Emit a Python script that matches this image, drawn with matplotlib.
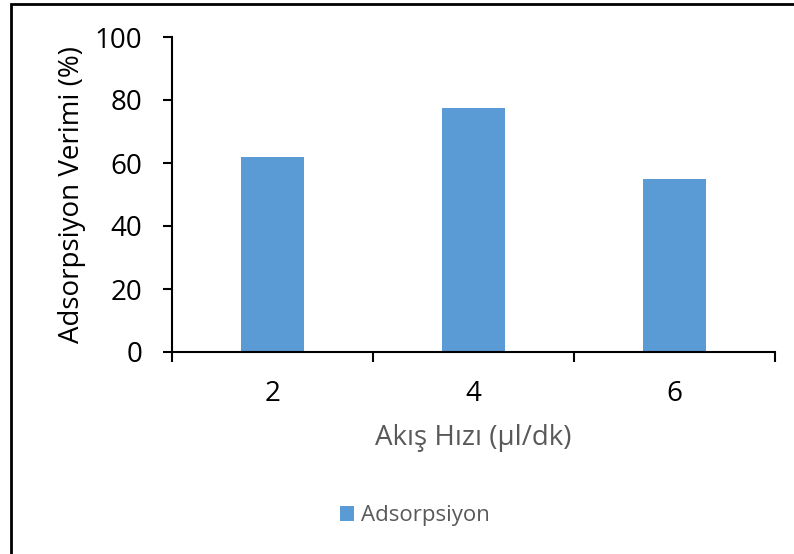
import matplotlib
matplotlib.use("Agg")
import matplotlib.pyplot as plt
from matplotlib.patches import Rectangle

categories = ["2", "4", "6"]
values = [62, 77.5, 55]
y_ticks = [0, 20, 40, 60, 80, 100]
series_name = "Adsorpsiyon"

plt.rcParams['font.family'] = ['Open Sans', 'DejaVu Sans']

W, H = 794, 554
fig = plt.figure(figsize=(W/100, H/100), dpi=100)
ax = fig.add_axes([172/W, 1-352/H, (775-172)/W, (352-37)/H])

x = list(range(len(categories)))
bars = ax.bar(x, values, width=0.313, color="#5B9BD5", label=series_name, zorder=2)
ax.set_xlim(-0.5, len(categories)-0.5)
ax.set_ylim(0, 100)
ax.set_yticks(y_ticks)
ax.set_yticklabels([str(t) for t in y_ticks], fontsize=20, color="black")
ax.set_xticks(x)
ax.set_xticklabels(categories, fontsize=20, color="black")
ax.tick_params(axis='x', length=0, pad=20)
ax.tick_params(axis='y', length=6.5, width=1.5, direction='out', pad=15)
# category boundary ticks
ax.set_xticks([-0.5, 0.5, 1.5, 2.5], minor=True)
ax.tick_params(axis='x', which='minor', length=7, width=1.5, direction='out')
for s in ['top', 'right']:
    ax.spines[s].set_visible(False)
for s in ['left', 'bottom']:
    ax.spines[s].set_linewidth(1.5)

ax.set_ylabel("Adsorpsiyon Verimi (%)", fontsize=20, color="black", labelpad=6)
ax.set_xlabel("Akış Hızı (µl/dk)", fontsize=20, color="#595959", labelpad=12)

leg = fig.legend(handles=[bars], labels=[series_name], loc='center',
                 bbox_to_anchor=(415/W, 1-516/H), frameon=False, fontsize=16,
                 handlelength=0.65, handleheight=0.65, handletextpad=0.3,
                 labelcolor="#595959")

fig.add_artist(Rectangle((11/W, -0.02), 1.05, 1-4/H+0.02, transform=fig.transFigure,
                         fill=False, edgecolor="black", linewidth=2))

fig.savefig("out.png", dpi=100)
